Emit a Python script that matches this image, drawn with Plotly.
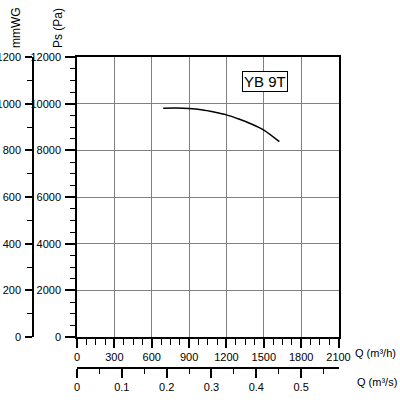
import plotly.graph_objects as go

# Data
flow_m3h = [692, 800, 900, 1000, 1100, 1200, 1300, 1400, 1500, 1625]
pressure_pa = [9800, 9810, 9790, 9735, 9640, 9520, 9340, 9130, 8870, 8370]
model_label = "YB 9T"

W = H = 400
def px(x):
    return x / W
def py(y):
    return 1 - y / H

x0, x1 = 77, 338.5
y0, y1 = 337, 57
font = dict(family="Liberation Sans, Arial", size=11, color="black")
tfont = dict(family="Liberation Sans, Arial", size=12, color="black")

fig = go.Figure()
fig.add_trace(go.Scatter(x=flow_m3h, y=pressure_pa, mode="lines",
                         line=dict(color="black", width=1.5, shape="spline"),
                         showlegend=False, hoverinfo="skip", xaxis="x", yaxis="y"))
# empty traces to register secondary axes
fig.add_trace(go.Scatter(x=[], y=[], xaxis="x", yaxis="y2", showlegend=False))
fig.add_trace(go.Scatter(x=[], y=[], xaxis="x2", yaxis="y", showlegend=False))

common_minor = dict(tickcolor="black", tickwidth=1.3)

fig.update_layout(
    width=W, height=H, margin=dict(l=0, r=0, t=0, b=0),
    paper_bgcolor="white", plot_bgcolor="white", font=font, showlegend=False,
    xaxis=dict(domain=[px(x0), px(x1)], range=[0, 2100], dtick=300, tick0=0,
               showgrid=True, gridcolor="#808080", gridwidth=1, automargin=False,
               showline=True, linecolor="black", linewidth=1.5, mirror=True,
               ticks="outside", ticklen=9, tickcolor="black", tickwidth=1.5,
               minor=dict(dtick=75, ticks="outside", ticklen=6, showgrid=False, **common_minor),
               zeroline=False, tickfont=font, tickformat="d", anchor="y"),
    yaxis=dict(domain=[py(y0), py(y1)], range=[0, 12000], dtick=2000, tick0=0,
               showgrid=True, gridcolor="#808080", gridwidth=1, automargin=False,
               showline=True, linecolor="black", linewidth=1.5, mirror=True,
               ticks="outside", ticklen=10, tickcolor="black", tickwidth=1.5,
               minor=dict(dtick=500, ticks="outside", ticklen=5, showgrid=False, **common_minor),
               zeroline=False, tickfont=font, tickformat="d", anchor="x",
               ticklabelstandoff=2),
    yaxis2=dict(overlaying="y", anchor="free", position=px(33), side="left",
                range=[0, 1200], dtick=200, tick0=0, showgrid=False, automargin=False,
                showline=True, linecolor="black", linewidth=1.5,
                ticks="outside", ticklen=7, tickcolor="black", tickwidth=1.5,
                minor=dict(dtick=100, ticks="outside", ticklen=5, **common_minor),
                zeroline=False, tickfont=font, tickformat="d", ticklabelstandoff=2),
    xaxis2=dict(overlaying="x", anchor="free", position=py(368), side="bottom",
                range=[0, 2100 / 3600], dtick=0.1, tick0=0, showgrid=False, automargin=False,
                showline=True, linecolor="black", linewidth=1.5,
                ticks="outside", ticklen=9, tickcolor="black", tickwidth=1.5,
                minor=dict(dtick=0.05, ticks="outside", ticklen=5, **common_minor),
                zeroline=False, tickfont=font),
)

annos = [
    dict(text="mmWG", x=px(16), y=py(28), textangle=-90, font=tfont),
    dict(text="Ps (Pa)", x=px(58), y=py(28), textangle=-90, font=tfont),
    dict(text="Q (m³/h)", x=px(375), y=py(353), font=font),
    dict(text="Q (m³/s)", x=px(377), y=py(382), font=font),
]
for a in annos:
    fig.add_annotation(xref="paper", yref="paper", showarrow=False,
                       xanchor="center", yanchor="middle", **a)

fig.add_annotation(xref="paper", yref="paper", x=px(264.5), y=py(82),
                   text=model_label, showarrow=False, xanchor="center", yanchor="middle",
                   font=dict(family="Liberation Sans, Arial", size=15, color="black"),
                   bordercolor="black", borderwidth=1, bgcolor="white", borderpad=1)

fig.write_html("out.html")
